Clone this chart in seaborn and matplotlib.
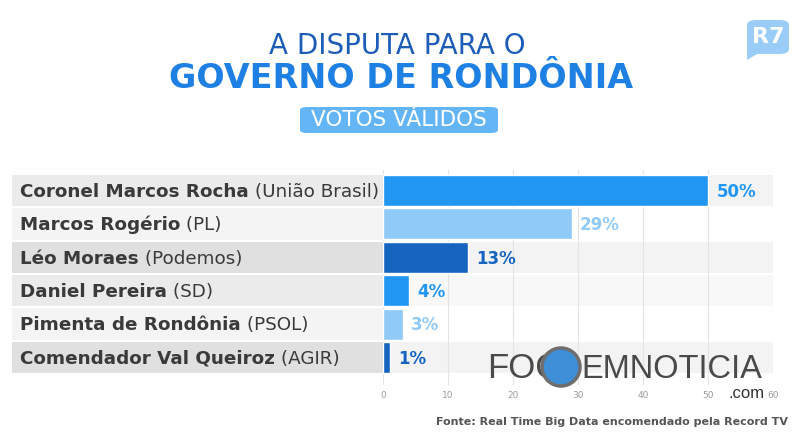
import matplotlib
matplotlib.use("Agg")
import matplotlib.pyplot as plt
import matplotlib.transforms as mtransforms
from matplotlib.patches import FancyBboxPatch, Rectangle, Ellipse, Polygon
import seaborn as sns

# data
names = ["Coronel Marcos Rocha", "Marcos Rogério", "Léo Moraes",
         "Daniel Pereira", "Pimenta de Rondônia", "Comendador Val Queiroz"]
parties = ["(União Brasil)", "(PL)", "(Podemos)", "(SD)", "(PSOL)", "(AGIR)"]
votes = [50, 29, 13, 4, 3, 1]
bar_colors = ["#2196f3", "#90caf9", "#1565c0", "#2196f3", "#90caf9", "#1565c0"]
xticks = [0, 10, 20, 30, 40, 50, 60]

sns.set_style("white")
plt.rcParams["font.family"] = ["DejaVu Sans"]

fig = plt.figure(figsize=(8, 4.34), dpi=100)
fig.patch.set_facecolor("white")
ax = fig.add_axes([383 / 800, 1 - 385 / 434, 390 / 800, 215 / 434])
ax.set_facecolor("white")

# row backgrounds
label_bg = ["#ebebeb", "#f4f4f4", "#e0e0e0", "#ebebeb", "#f4f4f4", "#e0e0e0"]
plot_bg = ["#f3f3f3", "#ffffff", "#f3f3f3", "#f8f8f8", "#ffffff", "#f3f3f3"]
blend = mtransforms.blended_transform_factory(fig.transFigure, ax.transData)
for i in range(len(names)):
    ax.axhspan(i - 0.47, i + 0.47, color=plot_bg[i], zorder=0, lw=0)
    ax.add_patch(Rectangle((12 / 800, i - 0.47), (383 - 12) / 800, 0.94,
                           transform=blend, facecolor=label_bg[i], lw=0,
                           clip_on=False, zorder=0))

for x in xticks:
    ax.axvline(x, color="#e4e4e4", lw=0.8, zorder=0.5)

sns.barplot(x=votes, y=names, hue=names, palette=bar_colors, legend=False,
            orient="h", width=0.92, saturation=1, ax=ax, zorder=2)

ax.set_xlim(0, 60)
ax.set_ylim(5.82, -0.61)
ax.set_xticks(xticks)
ax.set_xticklabels([str(t) for t in xticks], fontsize=6.5, color="#9a9a9a")
ax.tick_params(axis="x", length=0, pad=4)
ax.set_yticks([])
ax.set_xlabel("")
ax.set_ylabel("")
for s in ax.spines.values():
    s.set_visible(False)

# candidate labels: bold name + regular party
for i, (n, p) in enumerate(zip(names, parties)):
    t = ax.text(20 / 800, i + 0.04, n, transform=blend, fontsize=13.2,
                fontweight="bold", color="#3a3a3a", va="center", ha="left")
    ax.annotate(" " + p, xy=(1, 0), xycoords=t, va="bottom", ha="left",
                fontsize=13.2, color="#3a3a3a")

# value labels
for i, v in enumerate(votes):
    ax.annotate(f"{v}%", xy=(v, i + 0.04), xytext=(6, 0),
                textcoords="offset points", va="center", ha="left",
                fontsize=12, fontweight="bold", color=bar_colors[i])

# titles
fig.text(0.497, 1 - 46 / 434, "A DISPUTA PARA O", ha="center", va="center",
         fontsize=20, color="#1d5db8")
fig.text(0.501, 1 - 79 / 434, "GOVERNO DE RONDÔNIA", ha="center", va="center",
         fontsize=24, fontweight="bold", color="#1e80e2")
fig.patches.append(FancyBboxPatch((300 / 800, 1 - 133 / 434), 198 / 800, 26 / 434,
                                  boxstyle="round,pad=0,rounding_size=0.008",
                                  transform=fig.transFigure, facecolor="#64b5f6",
                                  lw=0))
fig.text(0.499, 1 - 120 / 434, "VOTOS VÁLIDOS", ha="center", va="center",
         fontsize=15.5, color="white")

# R7 logo (speech bubble)
r7_color = "#99ccf7"
fig.patches.append(FancyBboxPatch((747 / 800, 1 - 54 / 434), 42 / 800, 34 / 434,
                                  boxstyle="round,pad=0,rounding_size=0.012",
                                  transform=fig.transFigure, facecolor=r7_color,
                                  lw=0))
fig.patches.append(Polygon([(747 / 800, 1 - 46 / 434), (747 / 800, 1 - 60 / 434),
                            (757 / 800, 1 - 54 / 434)],
                           closed=True, transform=fig.transFigure,
                           facecolor=r7_color, lw=0))
fig.text(768 / 800, 1 - 37 / 434, "R7", ha="center", va="center",
         fontsize=16, fontweight="bold", color="white")

# watermark
wm_font = ["Liberation Sans"]
fig.text(487 / 800, 1 - 369 / 434, "FOC", ha="left", va="center",
         fontsize=25, color="#4a4a4a", family=wm_font)
fig.patches.append(Ellipse((561 / 800, 1 - 367 / 434), 38 / 800, 38 / 434,
                           transform=fig.transFigure, facecolor="#3d8fd8",
                           edgecolor="#6e6e6e", lw=2.5, zorder=5))
fig.text(581 / 800, 1 - 369 / 434, "EMNOTICIA", ha="left", va="center",
         fontsize=23.5, color="#4a4a4a", family=wm_font)
fig.text(765 / 800, 1 - 393 / 434, ".com", ha="right", va="center",
         fontsize=12, color="#333333", family=wm_font)

# source
fig.text(788 / 800, 1 - 422 / 434,
         "Fonte: Real Time Big Data encomendado pela Record TV",
         ha="right", va="center", fontsize=8, fontweight="bold",
         color="#555555")

fig.savefig("out.png", dpi=100, facecolor="white")
